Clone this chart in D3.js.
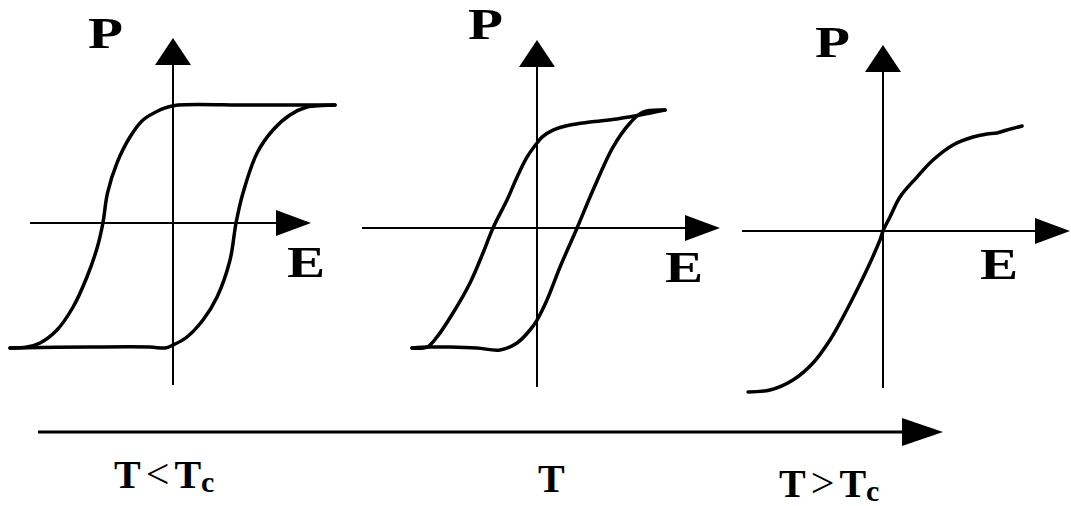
<!DOCTYPE html>
<html>
<head>
<meta charset="utf-8">
<script src="https://cdn.jsdelivr.net/npm/d3@7"></script>
<style>
    body { margin: 0; background: #fff; }
    svg { display: block; }
    text { font-family: "Liberation Serif", "Times New Roman", serif; fill: #000; }
</style>
</head>
<body>
<div id="chart"></div>
<script>
// P-E loops, values as (E, P) in % of saturation
const loop1Down = [[100, 100], [47.5, 100], [3, 100], [-3, 98.3], [-8, 95.8], [-18.4, 87.3], [-26.4, 72.9],
    [-34.4, 50.8], [-40.2, 25.4], [-43, 0], [-46.4, -19.2], [-52.8, -43.2], [-61.3, -67.2],
    [-71.2, -85.6], [-81.6, -96], [-89.6, -99.2], [-100, -100]];
const loop1Up = [[-100, -100], [-50.9, -99.2], [-14.1, -99.2], [-4.9, -100], [0, -97.6], [8.6, -91.2],
    [18.5, -77.6], [27.2, -59.2], [35.2, -29.6], [38.9, 0], [43.2, 25.4], [51.9, 59.3], [61.7, 78.8],
    [72.2, 91.5], [82.7, 98.3], [92, 99.6], [100, 100]];

const loop2Down = [[100, 100], [80.5, 95.8], [62.5, 92.4], [41.4, 89.8], [25.8, 87.3], [12.5, 83],
    [3.9, 77], [0, 72], [-8, 60], [-16, 43], [-24, 23.7], [-35.2, 0], [-43.2, -20.8], [-53.6, -45.8],
    [-67.2, -70.8], [-80, -90.8], [-88, -99.2], [-100, -100]];
const loop2Up = [[-100, -100], [-85.6, -99.2], [-69.6, -99.2], [-48, -100], [-29.6, -101.7], [-16, -95.8],
    [-5.6, -85], [0, -76.7], [7.8, -60], [18, -32.5], [31.3, 0], [43.8, 32.2], [59.4, 68.6], [72.7, 89],
    [82.8, 98.3], [100, 100]];

const curve3 = [[-98.5, -123.8], [-82.5, -122.3], [-65.7, -114.6], [-51.1, -101.5], [-38.7, -83.8],
    [-29.2, -66.2], [-19, -45.4], [-9.5, -24.6], [-2.2, -6.9], [0, 0], [5.1, 10.8], [12.4, 26.2],
    [24.8, 41.5], [36.5, 54.6], [51.1, 66.2], [65.7, 72.3], [75.9, 74.6], [83.2, 75.4], [90.5, 77.7],
    [101.5, 80.8]];

const axisNames = ["P", "E"];
// temperature labels: symbol, relation, symbol, subscript
const tempLabels = [["T", "<", "T", "c"], ["T", "", "", ""], ["T", ">", "T", "c"]];

const width = 1071, height = 506;

// layout of the three panels (pixel ranges for E = -100, 0, 100 and P = -100, 0, 100)
const panels = [
    { series: [loop1Down, loop1Up], xr: [10, 173, 335], yr: [348, 223, 105],
      xAxis: [30, 311], yAxis: [38, 385], pAt: [88, 48], eAt: [287, 277] },
    { series: [loop2Down, loop2Up], xr: [412, 537, 665], yr: [348, 228, 110],
      xAxis: [362, 720], yAxis: [40, 387], pAt: [468, 39], eAt: [665, 282] },
    { series: [curve3], xr: [746, 883, 1020], yr: [361, 231, 101],
      xAxis: [742, 1070], yAxis: [45, 388], pAt: [815, 57], eAt: [980, 279] }
];

const svg = d3.select("#chart").append("svg")
    .attr("width", width)
    .attr("height", height);

function arrowRight(x, y, len, half) {
    const p = d3.path();
    p.moveTo(x, y);
    p.lineTo(x - len, y - half);
    p.lineTo(x - len, y + half);
    p.closePath();
    return p.toString();
}

function arrowUp(x, y, len, half) {
    const p = d3.path();
    p.moveTo(x, y);
    p.lineTo(x - half, y + len);
    p.lineTo(x + half, y + len);
    p.closePath();
    return p.toString();
}

panels.forEach((pn) => {
    const x = d3.scaleLinear().domain([-100, 0, 100]).range(pn.xr);
    const y = d3.scaleLinear().domain([-100, 0, 100]).range(pn.yr);
    const g = svg.append("g");

    // axes
    g.append("line")
        .attr("x1", pn.xAxis[0]).attr("x2", pn.xAxis[1] - 20)
        .attr("y1", y(0)).attr("y2", y(0))
        .attr("stroke", "#000").attr("stroke-width", 2);
    g.append("path").attr("d", arrowRight(pn.xAxis[1], y(0), 35, 13)).attr("fill", "#000");

    g.append("line")
        .attr("x1", x(0)).attr("x2", x(0))
        .attr("y1", pn.yAxis[1]).attr("y2", pn.yAxis[0] + 15)
        .attr("stroke", "#000").attr("stroke-width", 2);
    g.append("path").attr("d", arrowUp(x(0), pn.yAxis[0], 27, 18)).attr("fill", "#000");

    // curves
    const line = d3.line()
        .x((d) => x(d[0]))
        .y((d) => y(d[1]))
        .curve(d3.curveCatmullRom.alpha(0.5));

    g.selectAll(".curve")
        .data(pn.series)
        .join("path")
        .attr("class", "curve")
        .attr("d", line)
        .attr("fill", "none")
        .attr("stroke", "#000")
        .attr("stroke-width", 3.5)
        .attr("stroke-linecap", "round")
        .attr("stroke-linejoin", "round");

    // axis letters
    [pn.pAt, pn.eAt].forEach((at, i) => {
        g.append("text")
            .attr("transform", `translate(${at[0]},${at[1]}) scale(1.3,1)`)
            .attr("font-size", 44)
            .attr("font-weight", "bold")
            .text(axisNames[i]);
    });
});

// temperature axis
const tx = d3.scaleLinear().domain([0, 1]).range([38, 943]);
const ty = 432;
svg.append("line")
    .attr("x1", tx(0)).attr("x2", tx(1) - 25)
    .attr("y1", ty).attr("y2", ty)
    .attr("stroke", "#000").attr("stroke-width", 3);
svg.append("path").attr("d", arrowRight(tx(1), ty, 41, 14)).attr("fill", "#000");

const tempAt = [[114, 488], [538, 492], [779, 497]];
tempLabels.forEach((parts, i) => {
    const txt = svg.append("text")
        .attr("x", tempAt[i][0])
        .attr("y", tempAt[i][1])
        .attr("font-size", 40)
        .attr("font-weight", "bold");
    txt.append("tspan").text(parts[0]);
    if (parts[1]) {
        txt.append("tspan")
            .attr("dx", 5)
            .attr("font-size", 42)
            .attr("font-weight", "normal")
            .text(parts[1]);
        txt.append("tspan").attr("dx", 5).text(parts[2]);
        txt.append("tspan")
            .attr("dy", 4)
            .attr("font-size", 30)
            .text(parts[3]);
    }
});
</script>
</body>
</html>
